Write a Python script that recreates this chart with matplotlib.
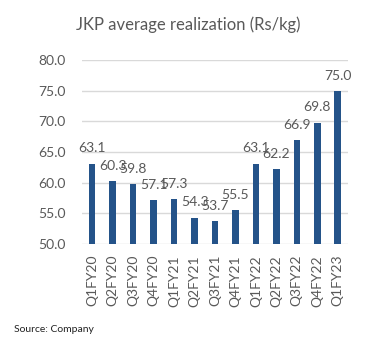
import matplotlib
matplotlib.use("Agg")
import matplotlib.pyplot as plt
import numpy as np

trimestres = ["Q1FY20", "Q2FY20", "Q3FY20", "Q4FY20", "Q1FY21", "Q2FY21", "Q3FY21",
              "Q4FY21", "Q1FY22", "Q2FY22", "Q3FY22", "Q4FY22", "Q1FY23"]
realizacao = [63.1, 60.3, 59.8, 57.1, 57.3, 54.3, 53.7, 55.5, 63.1, 62.2, 66.9, 69.8, 75.0]

plt.rcParams['font.family'] = ['Lato', 'DejaVu Sans']
cinza = '#595959'
azul = '#245389'

fig = plt.figure(figsize=(3.71, 3.43), dpi=100)
ax = fig.add_axes([0.221, 0.289, 0.717, 0.536])

x = np.arange(len(trimestres))
barras = ax.bar(x, realizacao, width=0.32, color=azul, zorder=3)

for b, v in zip(barras, realizacao):
    ax.annotate(f'{v:.1f}', (b.get_x() + b.get_width() / 2, v),
                xytext=(0, 8), textcoords='offset points',
                ha='center', va='baseline', fontsize=10, color=cinza)

ax.set_ylim(50, 80)
ax.set_xlim(-0.5, len(trimestres) - 0.5)
ax.set_yticks(np.arange(50, 81, 5))
ax.set_yticklabels([f'{t:.1f}' for t in np.arange(50, 81, 5)], fontsize=10, color=cinza)
ax.set_xticks(x)
ax.set_xticklabels(trimestres, rotation=90, fontsize=10, color=cinza)
ax.tick_params(axis='both', length=0)
ax.tick_params(axis='y', pad=12)
ax.tick_params(axis='x', pad=8)
ax.grid(axis='y', color='#d9d9d9', linewidth=1, zorder=0)
for s in ax.spines.values():
    s.set_visible(False)

fig.text(0.507, 0.927, 'JKP average realization (Rs/kg)', ha='center', va='center',
         fontsize=12, color=cinza)
fig.text(0.038, 0.04, 'Source: Company', ha='left', va='center', fontsize=7.5, color='#222222')

fig.savefig('out.png', dpi=100)
